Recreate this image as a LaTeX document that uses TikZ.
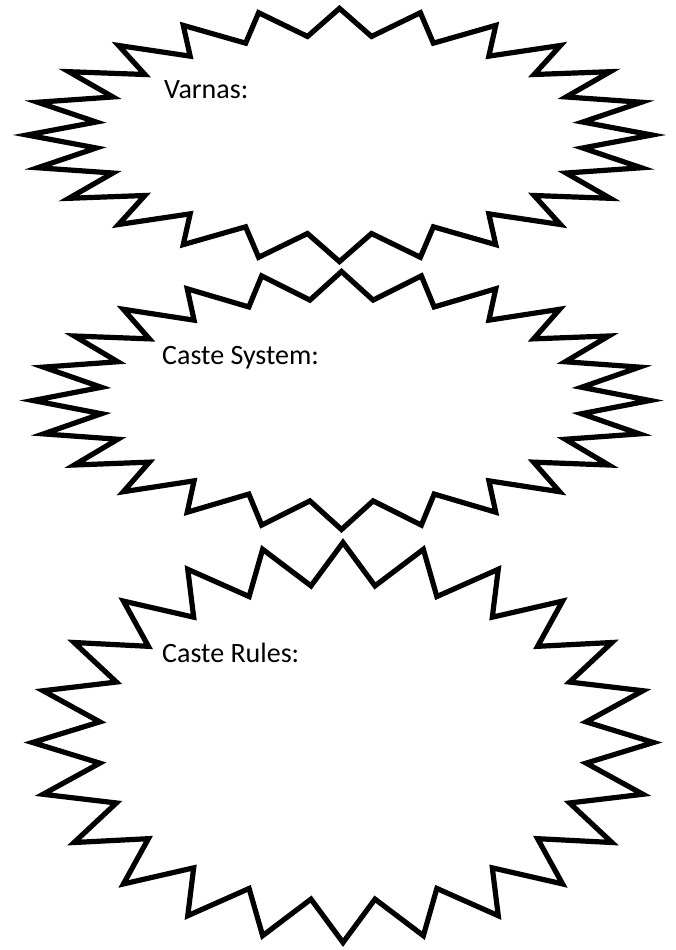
\documentclass[tikz,border=0pt]{standalone}
\usepackage{fontspec}
\setmainfont{Carlito}
\newcommand\burstshape[5]{%
  \draw[burstline] plot[samples at={0,7.5,...,352.5}, variable=\t]
    ({#1+#3*(1-(1-#5)*mod(round(\t/7.5),2))*cos(\t)},
     {#2+#4*(1-(1-#5)*mod(round(\t/7.5),2))*sin(\t)}) -- cycle;}
\begin{document}
\begin{tikzpicture}[x=1pt,y=-1pt,
  burstline/.style={line width=5.2pt, line join=miter, miter limit=20, black},
  label/.style={anchor=base west, inner sep=0pt, font=\fontsize{28}{34}\selectfont}]
\useasboundingbox[fill=white] (0,0) rectangle (675,950);
\burstshape{339.5}{135}{312.5}{126.6}{0.785}
\burstshape{341.5}{400.5}{308.5}{129}{0.785}
\burstshape{343}{742.5}{310.5}{200}{0.79}
\node[label] (varnas) at (164,98) {Varnas:};
\node[label] (system) at (162,364) {Caste System:};
\node[label] (rules) at (162,662) {Caste Rules:};
\end{tikzpicture}
\end{document}
